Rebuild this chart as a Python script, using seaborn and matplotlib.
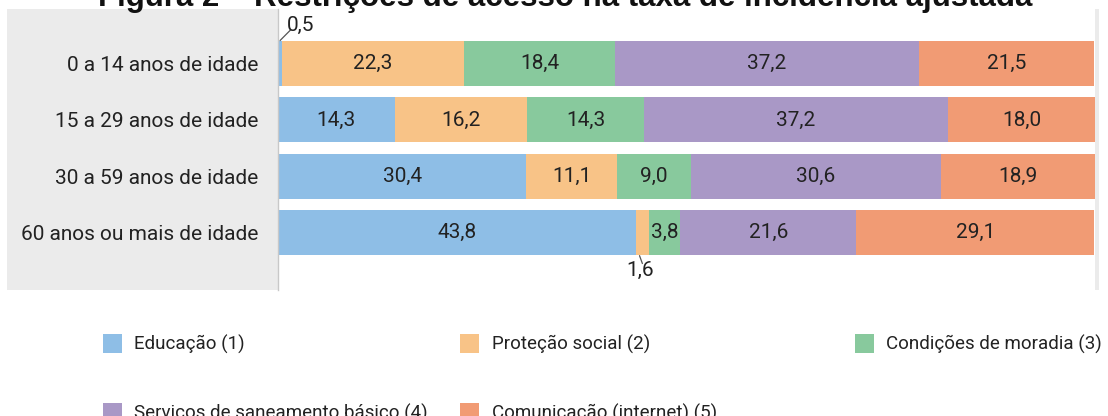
import numpy as np
import pandas as pd
import matplotlib
matplotlib.use("Agg")
import matplotlib.pyplot as plt
from matplotlib.patches import Rectangle, Patch
import seaborn as sns

# ---- data ----
categories = ["0 a 14 anos de idade", "15 a 29 anos de idade",
              "30 a 59 anos de idade", "60 anos ou mais de idade"]
series = ["Educação (1)", "Proteção social (2)", "Condições de moradia (3)",
          "Serviços de saneamento básico (4)", "Comunicação (internet) (5)"]
educacao = [0.5, 14.3, 30.4, 43.8]
protecao = [22.3, 16.2, 11.1, 1.6]
moradia = [18.4, 14.3, 9.0, 3.8]
saneamento = [37.2, 37.2, 30.6, 21.6]
comunicacao = [21.5, 18.0, 18.9, 29.1]
title = "Figura 2 – Restrições de acesso na taxa de incidência ajustada"

colors = ["#8EBEE6", "#F8C387", "#88C99D", "#A998C6", "#F19B74"]

sns.set_theme(style="white")
plt.rcParams["font.family"] = ["Roboto", "DejaVu Sans"]

W, H = 1108, 416
fig = plt.figure(figsize=(W / 100, H / 100), dpi=100)
fig.patch.set_facecolor("white")

# grey frame panel
fig.add_artist(Rectangle((7 / W, 1 - 290 / H), (1099 - 7) / W, (290 - 9) / H,
                         transform=fig.transFigure, facecolor="#EBEBEB",
                         edgecolor="none", zorder=-5))

ax = fig.add_axes([278 / W, 1 - 290 / H, (1095 - 278) / W, (290 - 9) / H])
ax.set_zorder(2)
ax.set_facecolor("white")

vals = np.array([educacao, protecao, moradia, saneamento, comunicacao]).T  # rows x series
cum = np.cumsum(vals, axis=1)

for i in reversed(range(len(series))):
    df = pd.DataFrame({"cat": categories, "v": cum[:, i]})
    sns.barplot(data=df, x="v", y="cat", orient="h", color=colors[i],
                saturation=1, width=0.8, linewidth=0, ax=ax)

ax.set_xlim(0, 100)
ax.set_ylim(4.02, -0.97)
ax.set_xlabel("")
ax.set_ylabel("")
ax.set_xticks([])
for s in ["top", "right", "bottom"]:
    ax.spines[s].set_visible(False)
ax.spines["left"].set_color("#C8C8C8")
ax.spines["left"].set_linewidth(1)
ax.tick_params(axis="y", length=0, pad=14, labelsize=15, labelcolor="#222222")

def fmt(v):
    return f"{v:.1f}".replace(".", ",")

txtc = "#222222"
for r in range(len(categories)):
    for j in range(len(series)):
        v = vals[r, j]
        c = cum[r, j] - v / 2
        if v >= 2:
            ax.text(c, r, fmt(v), ha="center", va="center", fontsize=15, color=txtc)
        elif r == 0:
            ax.text(c + 2.5, r - 0.68, fmt(v), ha="center", va="center",
                    fontsize=15, color=txtc)
            ax.plot([c, c + 1.3], [r - 0.41, r - 0.6], color="#555555", lw=0.9)
        else:
            ax.text(c - 0.3, r + 0.67, fmt(v), ha="center", va="center",
                    fontsize=15, color=txtc)
            ax.plot([c - 0.35, c + 0.0], [r + 0.41, r + 0.55], color="#555555", lw=0.9)

# title (partly clipped at top, as in the reference)
fig.text(565 / W, 1 - 6 / H, title, ha="center", va="baseline",
         fontsize=22.5, fontweight="bold", family="Liberation Sans", color="#111111")

# legend in three columns
handles = [Patch(facecolor=c, edgecolor="none") for c in colors]
cols = [([0, 3], 103), ([1, 4], 460), ([2], 855)]
for idx, xpx in cols:
    fig.legend([handles[k] for k in idx], [series[k] for k in idx],
               loc="upper left", bbox_to_anchor=(xpx / W, 1 - 334 / H),
               frameon=False, fontsize=13.5, handlelength=1.0, handleheight=1.15,
               handletextpad=0.68, labelspacing=2.6, borderpad=0, borderaxespad=0,
               labelcolor="#222222")

fig.savefig("out.png", dpi=100)
